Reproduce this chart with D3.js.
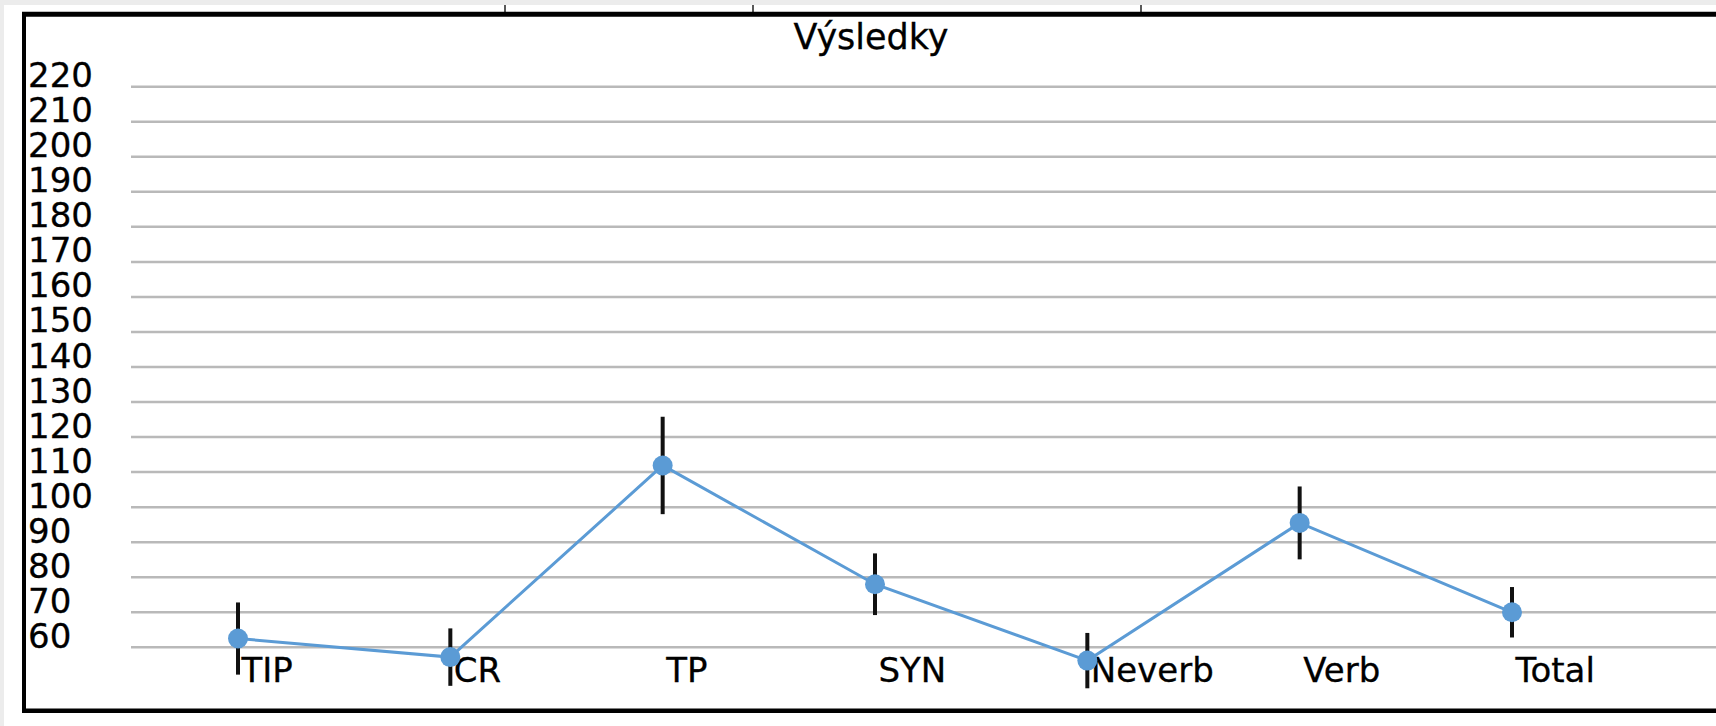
<!DOCTYPE html>
<html>
<head>
<meta charset="utf-8">
<script src="https://cdn.jsdelivr.net/npm/d3@7"></script>
<style>
  html, body { margin: 0; padding: 0; background: #fff; }
  svg { display: block; }
  text { font-family: "DejaVu Sans", Verdana, sans-serif; fill: #000; }
</style>
</head>
<body>
<svg id="chart" width="1716" height="726"></svg>
<script>
var title = "Výsledky";
var categories = ["TIP", "CR", "TP", "SYN", "Neverb", "Verb", "Total"];
var means = [62.5, 57.2, 111.9, 78.0, 56.2, 95.5, 70.0];
var errors = [10.3, 8.2, 13.9, 8.8, 7.9, 10.4, 7.2];
var yTicks = d3.range(60, 221, 10);

var width = 1716, height = 726;
var fontSize = 34;
var svg = d3.select("#chart");

var data = categories.map(function(c, i) {
  return { cat: c, mean: means[i], err: errors[i] };
});

var x = d3.scalePoint().domain(categories).range([238, 1512]);
var y = d3.scaleLinear().domain([60, 220]).range([647.3, 86.7]);

// window chrome
svg.append("rect").attr("x", 0).attr("y", 0).attr("width", width).attr("height", 5).attr("fill", "#ececec");
svg.append("rect").attr("x", 0).attr("y", 0).attr("width", 4).attr("height", height).attr("fill", "#ececec");
[505, 753, 1141].forEach(function(tx) {
  svg.append("line").attr("x1", tx).attr("x2", tx).attr("y1", 5).attr("y2", 12)
    .attr("stroke", "#222").attr("stroke-width", 1.5);
});

// grid
svg.append("g")
  .attr("class", "grid")
  .selectAll("line")
  .data(yTicks)
  .join("line")
  .attr("x1", 131)
  .attr("x2", width)
  .attr("y1", function(d) { return y(d); })
  .attr("y2", function(d) { return y(d); })
  .attr("stroke", "#b9b9b9")
  .attr("stroke-width", 2.5);

// y labels (left aligned)
var yAxis = svg.append("g")
  .attr("transform", "translate(28,0)")
  .call(d3.axisRight(y).tickValues(yTicks).tickSize(0).tickPadding(0).tickFormat(d3.format("d")));
yAxis.select(".domain").remove();
yAxis.selectAll("text")
  .attr("dy", 0)
  .attr("font-size", fontSize)
  .attr("font-family", "DejaVu Sans, Verdana, sans-serif")
  .attr("fill", "#000")
  .attr("stroke", "#000")
  .attr("stroke-width", 0.3);

// x labels
var xAxis = svg.append("g")
  .attr("transform", "translate(3,682)")
  .call(d3.axisBottom(x).tickSize(0).tickPadding(0));
xAxis.select(".domain").remove();
xAxis.selectAll("text")
  .attr("y", 0)
  .attr("dy", 0)
  .attr("text-anchor", "start")
  .attr("font-size", fontSize)
  .attr("font-family", "DejaVu Sans, Verdana, sans-serif")
  .attr("fill", "#000")
  .attr("stroke", "#000")
  .attr("stroke-width", 0.3);

// error bars
svg.append("g")
  .selectAll("line")
  .data(data)
  .join("line")
  .attr("x1", function(d) { return x(d.cat); })
  .attr("x2", function(d) { return x(d.cat); })
  .attr("y1", function(d) { return y(d.mean + d.err); })
  .attr("y2", function(d) { return y(d.mean - d.err); })
  .attr("stroke", "#111")
  .attr("stroke-width", 4);

// series line
var line = d3.line()
  .x(function(d) { return x(d.cat); })
  .y(function(d) { return y(d.mean); });

svg.append("path")
  .datum(data)
  .attr("d", line)
  .attr("fill", "none")
  .attr("stroke", "#5b9bd5")
  .attr("stroke-width", 3);

svg.append("g")
  .selectAll("circle")
  .data(data)
  .join("circle")
  .attr("cx", function(d) { return x(d.cat); })
  .attr("cy", function(d) { return y(d.mean); })
  .attr("r", 10)
  .attr("fill", "#5b9bd5");

// title
svg.append("text")
  .attr("x", 871)
  .attr("y", 48.5)
  .attr("text-anchor", "middle")
  .attr("font-size", 35)
  .attr("stroke", "#000")
  .attr("stroke-width", 0.3)
  .text(title);

// frame
svg.append("line").attr("x1", 22).attr("x2", width).attr("y1", 14.2).attr("y2", 14.2)
  .attr("stroke", "#000").attr("stroke-width", 5);
svg.append("line").attr("x1", 24).attr("x2", 24).attr("y1", 12).attr("y2", 713)
  .attr("stroke", "#000").attr("stroke-width", 4);
svg.append("line").attr("x1", 22).attr("x2", width).attr("y1", 710.8).attr("y2", 710.8)
  .attr("stroke", "#000").attr("stroke-width", 4.5);
</script>
</body>
</html>
